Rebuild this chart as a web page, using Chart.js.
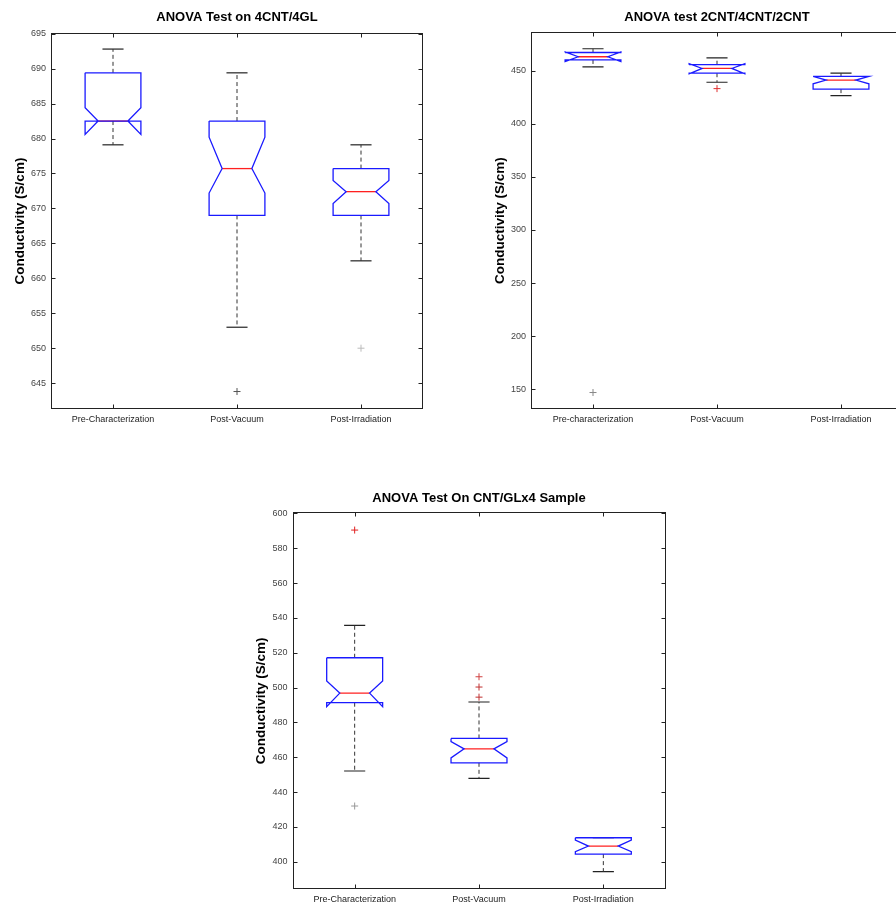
<!DOCTYPE html>
<html><head><meta charset="utf-8">
<script src="https://cdn.jsdelivr.net/npm/chart.js@4/dist/chart.umd.min.js"></script>
<style>
html,body{margin:0;padding:0;background:#fff;overflow:hidden;width:896px;height:907px;position:relative;}
canvas{position:absolute;display:block;}
</style></head><body>
<canvas id="c1" width="474" height="430" style="left:0;top:0"></canvas>
<canvas id="c2" width="474" height="430" style="left:480px;top:0"></canvas>
<canvas id="c3" width="478" height="427" style="left:240px;top:480px"></canvas>
<script>
// ---------- DATA ----------
const categories1 = ['Pre-Characterization', 'Post-Vacuum', 'Post-Irradiation'];
const categories2 = ['Pre-characterization', 'Post-Vacuum', 'Post-Irradiation'];
const categories3 = ['Pre-Characterization', 'Post-Vacuum', 'Post-Irradiation'];

// Panel 1: ANOVA Test on 4CNT/4GL
const yTicks1 = [645, 650, 655, 660, 665, 670, 675, 680, 685, 690, 695];
const whiskerLow1  = [679.1, 653.0, 662.5];
const q1_1         = [682.5, 669.0, 669.0];
const median1      = [682.5, 675.7, 672.4];
const q3_1         = [689.4, 682.5, 675.7];
const whiskerHigh1 = [692.8, 689.4, 679.1];
const notchLow1    = [680.6, 672.2, 670.7];
const notchHigh1   = [684.4, 680.2, 674.0];
const outlierCat1  = [2, 3];
const outlierVal1  = [643.8, 650.0];

// Panel 2: ANOVA test 2CNT/4CNT/2CNT
const yTicks2 = [150, 200, 250, 300, 350, 400, 450];
const whiskerLow2  = [453.5, 439.0, 426.5];
const q1_2         = [460.0, 447.5, 432.5];
const median2      = [463.0, 452.0, 441.0];
const q3_2         = [467.0, 455.5, 444.5];
const whiskerHigh2 = [470.5, 462.0, 447.5];
const notchLow2    = [458.5, 447.0, 437.5];
const notchHigh2   = [467.5, 456.5, 444.5];
const outlierCat2  = [1, 2];
const outlierVal2  = [147.0, 433.0];

// Panel 3: ANOVA Test On CNT/GLx4 Sample
const yTicks3 = [400, 420, 440, 460, 480, 500, 520, 540, 560, 580, 600];
const whiskerLow3  = [452.1, 447.9, 394.3];
const q1_3         = [491.3, 456.8, 404.4];
const median3      = [496.8, 464.8, 409.0];
const q3_3         = [517.1, 470.8, 413.8];
const whiskerHigh3 = [535.7, 491.7, 413.8];
const notchLow3    = [489.0, 459.6, 405.8];
const notchHigh3   = [503.8, 469.0, 412.5];
const outlierCat3  = [1, 1, 2, 2, 2];
const outlierVal3  = [590.4, 432.0, 506.2, 500.3, 494.5];

// ---------- STYLE ----------
const outlierColors1 = ['#555', '#bbb'];
const outlierColors2 = ['#888', '#e03030'];
const outlierColors3 = ['#e02020', '#999', '#d04040', '#c03030', '#c03030'];
const FONT = "'Liberation Sans', Arial, sans-serif";
const BOX_HALF = 0.225, NOTCH_HALF = 0.12, CAP_HALF = 0.085;

function buildDatasets(d) {
  const ds = [];
  for (let i = 0; i < d.q1.length; i++) {
    const x = i + 1, w = BOX_HALF, n = NOTCH_HALF, c = CAP_HALF;
    const line = {showLine: true, pointRadius: 0, tension: 0, fill: false};
    ds.push(Object.assign({}, line, {
      data: [{x: x - w, y: d.q3[i]}, {x: x + w, y: d.q3[i]}, {x: x + w, y: d.nHi[i]},
             {x: x + n, y: d.med[i]}, {x: x + w, y: d.nLo[i]}, {x: x + w, y: d.q1[i]},
             {x: x - w, y: d.q1[i]}, {x: x - w, y: d.nLo[i]}, {x: x - n, y: d.med[i]},
             {x: x - w, y: d.nHi[i]}, {x: x - w, y: d.q3[i]}],
      borderColor: '#1a1aff', borderWidth: 1.3}));
    ds.push(Object.assign({}, line, {
      data: [{x: x, y: d.q3[i]}, {x: x, y: d.whi[i]}],
      borderColor: '#333', borderWidth: 1, borderDash: [4, 3]}));
    ds.push(Object.assign({}, line, {
      data: [{x: x, y: d.q1[i]}, {x: x, y: d.wlo[i]}],
      borderColor: '#333', borderWidth: 1, borderDash: [4, 3]}));
    ds.push(Object.assign({}, line, {
      data: [{x: x - c, y: d.whi[i]}, {x: x + c, y: d.whi[i]}],
      borderColor: '#222', borderWidth: 1.2}));
    ds.push(Object.assign({}, line, {
      data: [{x: x - c, y: d.wlo[i]}, {x: x + c, y: d.wlo[i]}],
      borderColor: '#222', borderWidth: 1.2}));
    ds.push(Object.assign({}, line, {
      data: [{x: x - n, y: d.med[i]}, {x: x + n, y: d.med[i]}],
      borderColor: '#ff2020', borderWidth: 1.3}));
  }
  ds.push({
    data: d.oCat.map((cIdx, k) => ({x: cIdx, y: d.oVal[k]})),
    showLine: false, pointStyle: 'cross', pointRadius: 3.5, borderWidth: 1,
    pointBorderColor: d.oCol, borderColor: d.oCol, backgroundColor: d.oCol
  });
  return ds;
}

const framePlugin = {
  id: 'frame',
  afterDatasetsDraw(chart) {
    const {ctx, chartArea: a, scales} = chart;
    ctx.save();
    ctx.strokeStyle = '#222';
    ctx.lineWidth = 1;
    const L = Math.round(a.left) + 0.5, R = Math.round(a.right) - 0.5;
    const T = Math.round(a.top) + 0.5, B = Math.round(a.bottom) - 0.5;
    ctx.strokeRect(L, T, R - L, B - T);
    ctx.beginPath();
    scales.y.ticks.forEach(t => {
      const py = Math.round(scales.y.getPixelForValue(t.value)) + 0.5;
      ctx.moveTo(L, py); ctx.lineTo(L + 4, py);
      ctx.moveTo(R, py); ctx.lineTo(R - 4, py);
    });
    scales.x.ticks.forEach(t => {
      const px = Math.round(scales.x.getPixelForValue(t.value)) + 0.5;
      ctx.moveTo(px, B); ctx.lineTo(px, B - 4);
      ctx.moveTo(px, T); ctx.lineTo(px, T + 4);
    });
    ctx.stroke();
    ctx.restore();
  }
};

function makePanel(id, p) {
  new Chart(document.getElementById(id), {
    type: 'scatter',
    data: {datasets: buildDatasets(p.d)},
    plugins: [framePlugin],
    options: {
      responsive: false, animation: false, devicePixelRatio: 1, events: [],
      layout: {padding: 0},
      plugins: {
        legend: {display: false}, tooltip: {enabled: false},
        title: {display: true, text: p.title, color: '#000',
          font: {family: FONT, size: 13, weight: 'bold'},
          padding: {top: p.tTop, bottom: p.tBot}}
      },
      scales: {
        x: {
          type: 'linear', position: 'bottom', min: 0.5, max: 3.5,
          grid: {display: false, drawTicks: false}, border: {display: false},
          afterBuildTicks: s => { s.ticks = p.cats.map((c, i) => ({value: i + 1})); },
          ticks: {autoSkip: false, maxRotation: 0, padding: 5, color: '#222',
            font: {family: FONT, size: 9}, callback: v => p.cats[Math.round(v) - 1]},
          afterFit: s => { s.height = p.xh; }
        },
        y: {
          type: 'linear', position: 'left', min: p.yMin, max: p.yMax,
          grid: {display: false, drawTicks: false}, border: {display: false},
          afterBuildTicks: s => { s.ticks = p.yTicks.map(v => ({value: v})); },
          ticks: {padding: 5, color: '#444', font: {family: FONT, size: 9}, callback: v => String(v)},
          title: {display: true, text: 'Conductivity (S/cm)', color: '#000',
            font: {family: FONT, size: 13.5, weight: 'bold'}, padding: {top: p.ytPad, bottom: 0}},
          afterFit: s => { s.width = p.yw; }
        },
        yR: {
          type: 'linear', position: 'right', display: true,
          grid: {display: false, drawTicks: false}, border: {display: false},
          ticks: {display: false},
          afterFit: s => { s.width = p.yw; }
        }
      }
    }
  });
}

makePanel('c1', {
  title: 'ANOVA Test on 4CNT/4GL', cats: categories1, yTicks: yTicks1,
  yMin: 641.3, yMax: 695.1, yw: 51, xh: 21, tTop: 9.5, tBot: 7.9, ytPad: 12.6,
  d: {wlo: whiskerLow1, q1: q1_1, med: median1, q3: q3_1, whi: whiskerHigh1,
      nLo: notchLow1, nHi: notchHigh1, oCat: outlierCat1, oVal: outlierVal1, oCol: outlierColors1}
});
makePanel('c2', {
  title: 'ANOVA test 2CNT/4CNT/2CNT', cats: categories2, yTicks: yTicks2,
  yMin: 131.5, yMax: 486, yw: 51, xh: 21, tTop: 9.2, tBot: 7.5, ytPad: 12.6,
  d: {wlo: whiskerLow2, q1: q1_2, med: median2, q3: q3_2, whi: whiskerHigh2,
      nLo: notchLow2, nHi: notchHigh2, oCat: outlierCat2, oVal: outlierVal2, oCol: outlierColors2}
});
makePanel('c3', {
  title: 'ANOVA Test On CNT/GLx4 Sample', cats: categories3, yTicks: yTicks3,
  yMin: 384.2, yMax: 600.6, yw: 52.5, xh: 17.7, tTop: 10.2, tBot: 6.5, ytPad: 13.6,
  d: {wlo: whiskerLow3, q1: q1_3, med: median3, q3: q3_3, whi: whiskerHigh3,
      nLo: notchLow3, nHi: notchHigh3, oCat: outlierCat3, oVal: outlierVal3, oCol: outlierColors3}
});
</script>
</body></html>
